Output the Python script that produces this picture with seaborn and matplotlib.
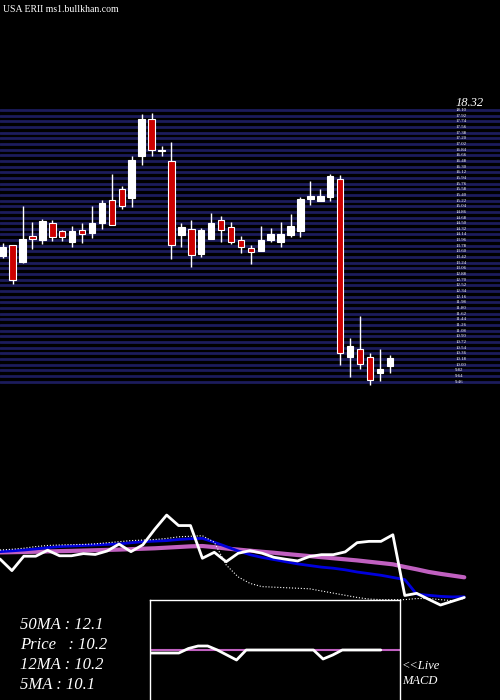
import matplotlib
matplotlib.use("Agg")
import matplotlib.pyplot as plt
import numpy as np
import pandas as pd
import seaborn as sns

# OHLC
opens  = [13.46, 13.82, 13.27, 14.09, 13.97, 14.52, 14.24, 13.91, 14.27, 14.19,
          14.51, 15.25, 15.60, 15.31, 16.64, 17.83, 16.80, 16.49, 14.13, 14.33,
          13.53, 14.00, 14.59, 14.37, 13.98, 13.70, 13.62, 13.97, 13.91, 14.13,
          14.26, 15.26, 15.21, 15.34, 15.89, 10.25, 10.48, 10.23, 9.74, 9.96]
closes = [13.75, 12.68, 14.01, 14.01, 14.56, 14.05, 14.05, 14.25, 14.17, 14.49,
          15.13, 14.43, 15.06, 16.50, 17.81, 16.84, 16.84, 13.82, 14.37, 13.50,
          14.28, 14.52, 14.29, 13.91, 13.73, 13.57, 13.98, 14.15, 14.15, 14.41,
          15.26, 15.38, 15.38, 15.99, 10.38, 10.58, 10.03, 9.50, 9.85, 10.20]
highs  = [13.88, 13.82, 15.04, 14.53, 14.63, 14.60, 14.28, 14.41, 14.49, 15.04,
          15.25, 16.06, 15.68, 16.63, 17.99, 18.02, 16.95, 17.07, 14.52, 14.60,
          14.35, 14.81, 14.72, 14.55, 14.09, 13.80, 14.41, 14.35, 14.53, 14.79,
          15.34, 15.84, 15.58, 16.06, 16.02, 10.83, 11.54, 10.36, 10.49, 10.29]
lows   = [13.38, 12.55, 13.22, 13.68, 13.85, 13.94, 13.94, 13.75, 13.88, 14.03,
          14.32, 14.43, 14.96, 15.02, 16.36, 16.65, 16.65, 13.35, 13.73, 13.12,
          13.43, 14.00, 13.91, 13.84, 13.54, 13.19, 13.62, 13.89, 13.75, 14.07,
          14.07, 15.08, 15.21, 15.22, 9.98, 9.59, 9.87, 9.36, 9.49, 9.74]

# moving averages in the lower panel
ma50 = [14.36, 14.38, 14.40, 14.42, 14.45, 14.48, 14.50, 14.53, 14.56, 14.59,
        14.62, 14.66, 14.70, 14.74, 14.80, 14.86, 14.92, 14.95, 14.85, 14.72,
        14.62, 14.52, 14.42, 14.33, 14.22, 14.12, 14.02, 13.92, 13.82, 13.72,
        13.62, 13.50, 13.38, 13.26, 13.02, 12.80, 12.56, 12.38, 12.22, 12.06]
ma12 = [14.43, 14.50, 14.58, 14.68, 14.80, 14.90, 14.95, 15.00, 15.05, 15.10,
        15.15, 15.25, 15.35, 15.40, 15.45, 15.55, 15.62, 15.66, 15.30, 14.90,
        14.50, 14.15, 13.90, 13.70, 13.50, 13.30, 13.15, 13.00, 12.90, 12.75,
        12.55, 12.40, 12.25, 12.05, 11.85, 10.50, 10.40, 10.30, 10.25, 10.27]
ma_dot = [14.58, 14.65, 14.75, 14.90, 15.00, 15.05, 15.08, 15.10, 15.15, 15.25,
          15.35, 15.45, 15.50, 15.55, 15.65, 15.80, 15.85, 15.90, 15.30, 13.20,
          12.10, 11.50, 11.20, 11.15, 11.10, 11.05, 11.00, 10.80, 10.60, 10.40,
          10.20, 10.05, 10.00, 10.00, 10.00, 10.10, 10.10, 10.00, 9.90, 10.10]

macd_line = [-0.06, -0.06, -0.06, -0.06, 0.03, 0.08, 0.08, 0.0, -0.1, -0.2, 0.0, 0.0, 0.0,
             0.0, 0.0, 0.0, 0.0, 0.0, -0.18, -0.1, 0.0, 0.0, 0.0, 0.0, 0.0]
macd_signal = [0.0] * 27

labels = ["50MA : 12.1", "Price   : 10.2", "12MA : 10.2", "5MA : 10.1"]

BG = "black"
fig = plt.figure(figsize=(5, 7), dpi=100, facecolor=BG)
sns.set_style("dark")
plt.rcParams["font.family"] = ["Liberation Serif", "DejaVu Serif"]

# ---- price panel (pixel rows 100..390)
ax = fig.add_axes([0, 1 - 390 / 700, 1, 290 / 700])
ax.set_facecolor(BG)
ax.set_xlim(-0.27, 50.1)
ax.set_ylim(9.19, 18.42)
for y in np.arange(18.1, 9.3, -0.18):
    ax.axhline(y, color="#1c1c5c", lw=2.0, zorder=0)
    ax.text(45.6, y, f"{y:.2f}", color="white", fontsize=3.5, va="center", zorder=1)
ax.text(45.6, 18.32, "18.32", color="white", fontsize=9, va="center", style="italic")

x = np.arange(len(opens))
for i in x:
    up = closes[i] >= opens[i]
    ax.vlines(i, lows[i], highs[i], color="white", lw=1, zorder=2)
    lo, hi = min(opens[i], closes[i]), max(opens[i], closes[i])
    ax.bar(i, max(hi - lo, 0.04), bottom=lo, width=0.65,
           color="white" if up else "#cc0000", edgecolor="white", lw=0.8, zorder=3)
ax.set_xticks([]); ax.set_yticks([])
for s in ax.spines.values():
    s.set_visible(False)

# ---- MA panel (pixel rows 500..700)
ax2 = fig.add_axes([0, 0, 1, 200 / 700])
ax2.set_facecolor(BG)
ax2.set_xlim(0, 42)
ax2.set_ylim(0.73, 19.2)
df = pd.DataFrame({"i": x, "close": closes, "ma50": ma50, "ma12": ma12, "dot": ma_dot})
sns.lineplot(data=df, x="i", y="ma50", color="#c060c0", lw=3, ax=ax2)
sns.lineplot(data=df, x="i", y="ma12", color="#0000dd", lw=2, ax=ax2)
sns.lineplot(data=df, x="i", y="dot", color="white", lw=0.8, ls=":", ax=ax2)
sns.lineplot(data=df, x="i", y="close", color="white", lw=2, ax=ax2)
ax2.set_xticks([]); ax2.set_yticks([])
ax2.set_xlabel(""); ax2.set_ylabel("")
for s in ax2.spines.values():
    s.set_visible(False)

for k, t in enumerate(labels):
    fig.text(20 / 500, 1 - (625 + 20 * k) / 700, t, color="white", fontsize=12,
             style="italic", va="center")

# ---- MACD inset
ax3 = fig.add_axes([150 / 500, 0, 250 / 500, 100 / 700])
ax3.set_facecolor(BG)
ax3.set_xlim(0, 26)
ax3.set_ylim(-1.0, 1.0)
mdf = pd.DataFrame({"i": np.arange(len(macd_line)), "v": macd_line})
sns.lineplot(x=np.arange(len(macd_signal)), y=macd_signal, color="#c060c0", lw=1.5, ax=ax3)
sns.lineplot(data=mdf, x="i", y="v", color="white", lw=2, ax=ax3)
ax3.set_xticks([]); ax3.set_yticks([])
ax3.set_xlabel(""); ax3.set_ylabel("")
for s in ax3.spines.values():
    s.set_color("white"); s.set_linewidth(1)
ax3.spines["bottom"].set_visible(False)
fig.text(402 / 500, 1 - 666 / 700, "<<Live", color="white", fontsize=9, style="italic", va="center")
fig.text(402 / 500, 1 - 681 / 700, "MACD", color="white", fontsize=9, style="italic", va="center")

fig.text(3 / 500, 1 - 10 / 700, "USA ERII ms1.bullkhan.com", color="white", fontsize=7, va="center")

fig.savefig("out.png", dpi=100, facecolor=BG)
